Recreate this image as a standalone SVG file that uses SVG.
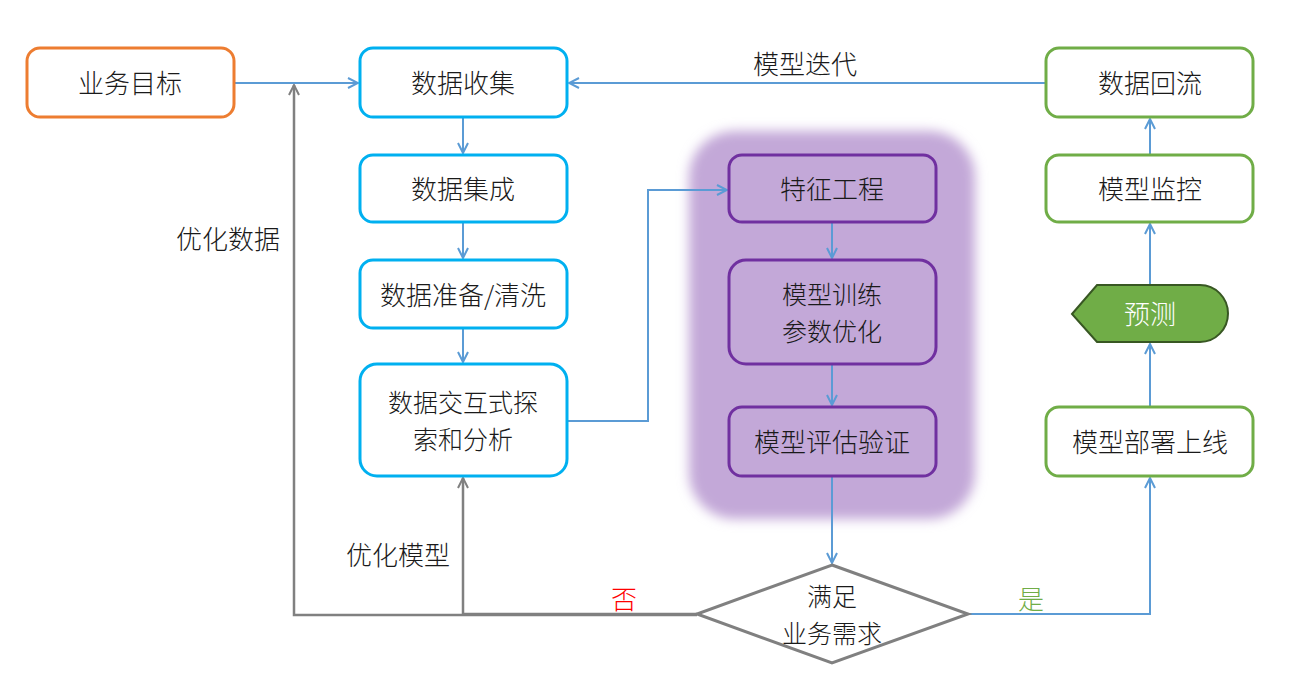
<svg xmlns="http://www.w3.org/2000/svg" width="1300" height="680" viewBox="0 0 1300 680">
<style>
text{font-family:"Noto Sans CJK SC","Noto Sans",sans-serif;font-size:26px;font-weight:300;fill:#1a1a1a;text-anchor:middle;dominant-baseline:central}
text.ml{font-size:25px}
.box{fill:#fff;stroke-width:3}
.or{stroke:#ED7D31}
.bl{stroke:#00B0F0}
.gr{stroke:#70AD47}
.pu{stroke:#7030A0;fill:#C3A8D8;stroke-width:3}
.cb{fill:none;stroke:#5B9BD5;stroke-width:2}
.cg{fill:none;stroke:#808080;stroke-width:2.5}
</style>
<defs>
<marker id="ab" viewBox="0 0 12 12" refX="11" refY="6" markerWidth="12" markerHeight="12" markerUnits="userSpaceOnUse" orient="auto"><path d="M1,1 L11,6 L1,11" fill="none" stroke="#5B9BD5" stroke-width="2"/></marker>
<marker id="ag" viewBox="0 0 12 12" refX="11" refY="6" markerWidth="12" markerHeight="12" markerUnits="userSpaceOnUse" orient="auto"><path d="M1,1 L11,6 L1,11" fill="none" stroke="#808080" stroke-width="2"/></marker>
<filter id="blur" x="-10%" y="-10%" width="120%" height="120%"><feGaussianBlur stdDeviation="6"/></filter>
</defs>
<rect id="group-bg" x="689" y="131" width="286" height="388" rx="46" fill="#C3A8D8" filter="url(#blur)"/>
<g id="connectors">
<path class="cb" d="M234,83 H358" marker-end="url(#ab)"/>
<path class="cb" d="M1046,83 H569" marker-end="url(#ab)"/>
<path class="cb" d="M463,117 V153" marker-end="url(#ab)"/>
<path class="cb" d="M463,222 V258" marker-end="url(#ab)"/>
<path class="cb" d="M463,328 V362" marker-end="url(#ab)"/>
<path class="cb" d="M567,421 H648 V190 H727" marker-end="url(#ab)"/>
<path class="cb" d="M832,222 V258" marker-end="url(#ab)"/>
<path class="cb" d="M832,364 V405" marker-end="url(#ab)"/>
<path class="cb" d="M832,476 V563" marker-end="url(#ab)"/>
<path class="cb" d="M968,614 H1150 V478" marker-end="url(#ab)"/>
<path class="cb" d="M1150,407 V344" marker-end="url(#ab)"/>
<path class="cb" d="M1150,285 V224" marker-end="url(#ab)"/>
<path class="cb" d="M1150,155 V119" marker-end="url(#ab)"/>
<path class="cg" d="M697,615 H294 V85" marker-end="url(#ag)"/>
<path class="cg" d="M697,614 H463 V478" marker-end="url(#ag)"/>
<text x="805" y="62">模型迭代</text>
<text x="228" y="237">优化数据</text>
<text x="398" y="553">优化模型</text>
<text x="624" y="597" style="fill:#FF0000">否</text>
<text x="1031" y="597" style="fill:#70AD47">是</text>
</g>
<g id="n-goal"><rect class="box or" x="27" y="48" width="207" height="69" rx="13"/><text x="130" y="81">业务目标</text></g>
<g id="n-collect"><rect class="box bl" x="360" y="48" width="207" height="69" rx="13"/><text x="463" y="81">数据收集</text></g>
<g id="n-integrate"><rect class="box bl" x="360" y="155" width="207" height="67" rx="13"/><text x="463" y="187">数据集成</text></g>
<g id="n-prepare"><rect class="box bl" x="360" y="260" width="207" height="68" rx="13"/><text x="463" y="293">数据准备/清洗</text></g>
<g id="n-explore"><rect class="box bl" x="360" y="364" width="207" height="112" rx="17"/><text class="ml" x="463" y="401">数据交互式探</text><text class="ml" x="463" y="438">索和分析</text></g>
<g id="n-feature"><rect class="pu" x="729" y="155" width="207" height="67" rx="13"/><text x="832" y="187">特征工程</text></g>
<g id="n-train"><rect class="pu" x="729" y="260" width="207" height="104" rx="17"/><text class="ml" x="832" y="293">模型训练</text><text class="ml" x="832" y="330">参数优化</text></g>
<g id="n-eval"><rect class="pu" x="729" y="407" width="207" height="69" rx="13"/><text x="832" y="440">模型评估验证</text></g>
<g id="n-decide"><polygon points="832,565 968,614 832,663 697,614" fill="#fff" stroke="#808080" stroke-width="3"/><text class="ml" x="832" y="595">满足</text><text class="ml" x="832" y="632">业务需求</text></g>
<g id="n-deploy"><rect class="box gr" x="1046" y="407" width="207" height="69" rx="13"/><text x="1150" y="440">模型部署上线</text></g>
<g id="n-predict"><path d="M1072,314 L1097,285 H1200 A28,28.5 0 0 1 1200,342 H1097 Z" fill="#70AD47" stroke="#385723" stroke-width="2"/><text x="1150" y="312" style="fill:#fff">预测</text></g>
<g id="n-monitor"><rect class="box gr" x="1046" y="155" width="207" height="67" rx="13"/><text x="1150" y="187">模型监控</text></g>
<g id="n-feedback"><rect class="box gr" x="1046" y="48" width="207" height="69" rx="13"/><text x="1150" y="81">数据回流</text></g>
</svg>
